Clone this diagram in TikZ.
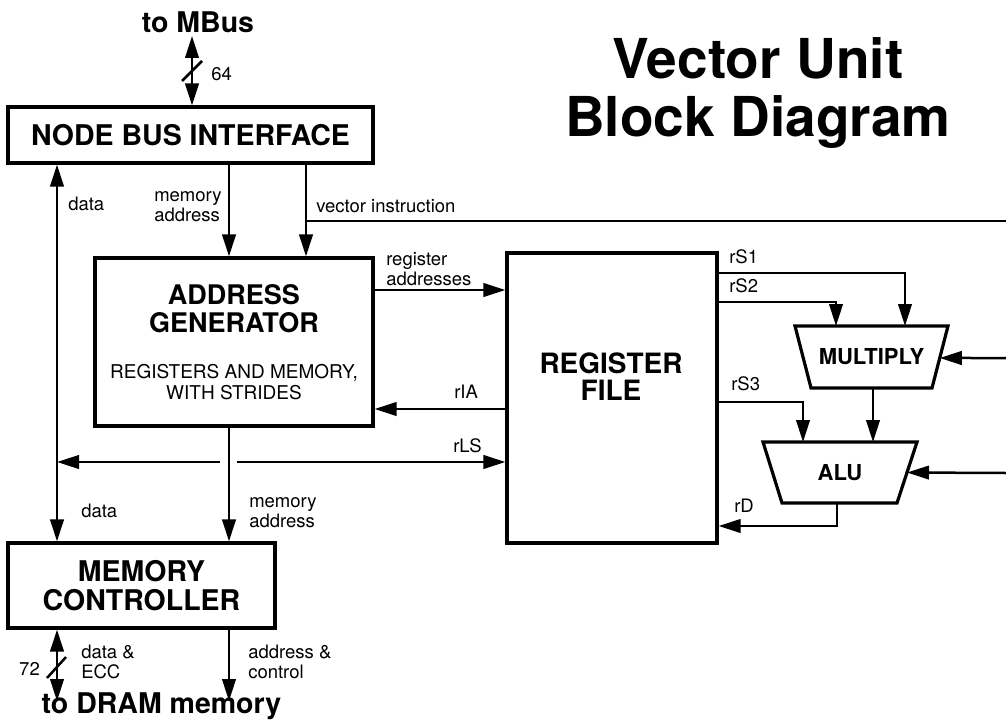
\documentclass[tikz,border=0pt]{standalone}
\usepackage{fontspec}
\setmainfont{TeX Gyre Heros}
\usetikzlibrary{arrows.meta,calc}
\begin{document}
\begin{tikzpicture}[x=1pt,y=-1pt,
  line width=2.5pt,
  >={Triangle[length=22pt,width=13.5pt]},
  box/.style={draw, line width=3.2pt, inner sep=0pt, align=center},
  unit/.style={inner sep=0pt, outer sep=0pt, font=\fontsize{22}{24}\selectfont\bfseries},
  trap/.style={line width=3.2pt, line join=miter},
  bigfont/.style={font=\fontsize{28.5}{29}\selectfont\bfseries},
  lbl/.style={inner sep=0pt, font=\fontsize{18.5}{20}\selectfont, align=left},
  txt/.style={inner sep=0pt, align=center}]
\path[use as bounding box] (0,0) rectangle (1006,725);

% title and port texts
\node[txt, font=\fontsize{55}{58}\selectfont\bfseries] (title) at (758,93) {Vector Unit\\Block Diagram};
\node[txt, bigfont, anchor=base] (mbustxt) at (198,33) {to MBus};
\node[txt, bigfont, anchor=base] (dramtxt) at (161.5,713) {to DRAM memory};

% blocks
\node[box, bigfont, minimum width=365pt, minimum height=56pt] (nbi) at (190.5,135) {NODE BUS INTERFACE};
\node[box, font=\fontsize{19}{21}\selectfont, minimum width=278pt, minimum height=168pt] (ag) at (234,342)
  {{\fontsize{27}{28}\selectfont\bfseries ADDRESS}\\[7pt]{\fontsize{27}{28}\selectfont\bfseries GENERATOR}\\[25pt]REGISTERS AND MEMORY,\\WITH STRIDES};
\node[box, bigfont, minimum width=267pt, minimum height=85pt] (mc) at (141.5,585.5) {MEMORY\\CONTROLLER};
\node[box, minimum width=210pt, minimum height=290pt] (rf) at (612,398) {};
\node[txt, font=\fontsize{28}{27}\selectfont\bfseries] (rft) at (611,376.5) {REGISTER\\FILE};
\node[unit, minimum width=153pt, minimum height=62pt] (mul) at (871.5,357) {MULTIPLY};
\node[unit, minimum width=154pt, minimum height=61pt] (alu) at (840,472.5) {ALU};
\draw[trap] (mul.north west) -- (mul.north east) -- ([xshift=-16pt]mul.south east) -- ([xshift=16pt]mul.south west) -- cycle;
\draw[trap] (alu.north west) -- (alu.north east) -- ([xshift=-20pt]alu.south east) -- ([xshift=19pt]alu.south west) -- cycle;

% helper coordinates
\coordinate (cD) at (57,0);
\coordinate (cM) at (229,0);
\coordinate (cV) at (306,0);
\coordinate (mbus) at (192,36);
\coordinate (vibr) at (306,221);
\coordinate (viend) at (1006,221);
\coordinate (rRA) at (0,290);
\coordinate (rIA) at (0,409);
\coordinate (lsL) at (220,462);
\coordinate (lsR) at (237,462);
\coordinate (dramD) at (57,701);
\coordinate (dramA) at (229,701);
\coordinate (s1) at (905,273);
\coordinate (s2) at (836,302);
\coordinate (s3) at (803,402);
\coordinate (ma) at (873,0);
\coordinate (rd) at (837,526);
\coordinate (inM) at (1006,358);
\coordinate (inA) at (1006,473);

% connectors
\draw[<->] (nbi.north -| mbus) -- (mbus);
\draw (182,81) -- (202,61);
\draw[<->] (nbi.south -| cD) -- (mc.north -| cD);
\draw[->] (nbi.south -| cM) -- (ag.north -| cM);
\draw[->] (nbi.south -| cV) -- (ag.north -| cV);
\draw (vibr) -- (viend);
\draw[->] (ag.east |- rRA) -- (rf.west |- rRA);
\draw[->] (rf.west |- rIA) -- (ag.east |- rIA);
\draw[->] (lsL) -- (cD |- lsL);
\draw[->] (lsR) -- (rf.west |- lsR);
\draw[->] (ag.south -| cM) -- (mc.north -| cM);
\draw[<->] (mc.south -| cD) -- (dramD);
\draw (47,678) -- (66,657);
\draw[->] (mc.south -| cM) -- (dramA);
\draw[->] (rf.east |- s1) -| (mul.north -| s1);
\draw[->] (rf.east |- s2) -| (mul.north -| s2);
\draw[->] (rf.east |- s3) -| (alu.north -| s3);
\draw[->] (mul.south -| ma) -- (alu.north -| ma);
\draw[->] (alu.south -| rd) |- (rf.east |- rd);
\draw[->] (inM) -- ($(mul.north east)!0.516!([xshift=-16pt]mul.south east)$);
\draw[->] (inA) -- ($(alu.north east)!0.5!([xshift=-20pt]alu.south east)$);

% labels
\node[lbl, anchor=base west] (l64) at (210,80) {64};
\node[lbl, anchor=base west] (l72) at (18,675) {72};
\node[lbl, anchor=base west] (ldata1) at (67,210) {data};
\node[lbl, anchor=west] (lma1) at (153,207) {memory\\address};
\node[lbl, anchor=base west] (lvi) at (315,212) {vector instruction};
\node[lbl, anchor=west] (lra) at (385,269) {register\\addresses};
\node[lbl, anchor=base west] (lria) at (453,398) {rIA};
\node[lbl, anchor=base west] (lrls) at (452,452) {rLS};
\node[lbl, anchor=west] (lma2) at (248,513) {memory\\address};
\node[lbl, anchor=base west] (ldata2) at (80,517) {data};
\node[lbl, anchor=west] (ldecc) at (80,661.5) {data \&\\ECC};
\node[lbl, anchor=west] (lac) at (247,661.5) {address \&\\control};
\node[lbl, anchor=base west] (lrs1) at (728,263) {rS1};
\node[lbl, anchor=base west] (lrs2) at (728,292) {rS2};
\node[lbl, anchor=base west] (lrs3) at (730,390) {rS3};
\node[lbl, anchor=base west] (lrd) at (733,512) {rD};
\end{tikzpicture}
\end{document}
